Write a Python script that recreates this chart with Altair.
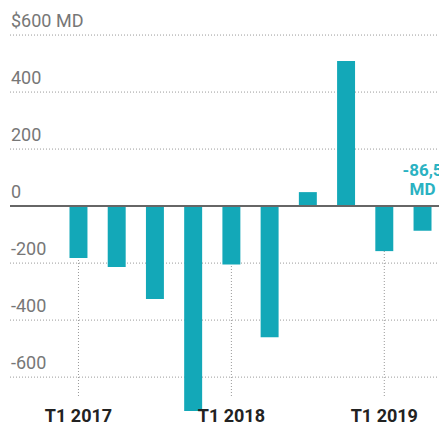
import altair as alt
import pandas as pd

quarters = ["T1 2017", "T2 2017", "T3 2017", "T4 2017",
            "T1 2018", "T2 2018", "T3 2018", "T4 2018",
            "T1 2019", "T2 2019"]
values = [-182, -214, -326, -719, -205, -460, 49, 509, -158, -86.5]

grid_values = [600, 400, 200, -200, -400, -600]
label_values = [600, 400, 200, 0, -200, -400, -600]
label_texts = ["$600 MD", "400", "200", "0", "-200", "-400", "-600"]

year_quarters = ["T1 2017", "T1 2018", "T1 2019"]
annot_quarter = ["T2 2019"]
annot_text = ["-86,5\nMD"]

df = pd.DataFrame({"q": quarters, "v": values})
grid_df = pd.DataFrame({"v": grid_values})
lab_df = pd.DataFrame({"v": label_values, "t": label_texts})
yr_df = pd.DataFrame({"q": year_quarters})
ann_df = pd.DataFrame({"q": annot_quarter, "t": annot_text})
zero_df = pd.DataFrame({"v": [0]})

TEAL = "#13a8b8"
LEFT = 62
W = 439 - LEFT

y_scale = alt.Scale(domain=[-768, 723], nice=False, zero=False)
x_scale = alt.Scale(domain=quarters, paddingInner=0.53, paddingOuter=0.196)

X = alt.X("q:N", scale=x_scale, axis=None, sort=quarters)
Y = alt.Y("v:Q", scale=y_scale, axis=None)

grid = alt.Chart(grid_df).mark_rule(color="#9a9a9a", strokeWidth=1, strokeDash=[1, 2]).encode(
    y=Y, x=alt.value(10 - LEFT), x2=alt.value(W))

vlines = alt.Chart(yr_df).mark_rule(color="#9a9a9a", strokeWidth=1, strokeDash=[1, 2]).encode(
    x=X, y=alt.value(206), y2=alt.value(397))

bars = alt.Chart(df).mark_bar(color=TEAL).encode(x=X, y=Y, y2=alt.datum(0))

zero = alt.Chart(zero_df).mark_rule(color="#666666", strokeWidth=2).encode(
    y=Y, x=alt.value(10 - LEFT), x2=alt.value(W))

labels = alt.Chart(lab_df).mark_text(
    align="left", baseline="alphabetic", dy=-8, fontSize=18, font="Roboto", color="#777777"
).encode(y=Y, x=alt.value(11 - LEFT), text="t:N")

xlabels = alt.Chart(yr_df).mark_text(
    align="center", baseline="alphabetic", fontSize=18, font="Roboto", fontWeight="bold",
    color="#222222"
).encode(x=X, y=alt.value(422), text="q:N")

annot = alt.Chart(ann_df).mark_text(
    align="center", baseline="top", fontSize=17, font="Roboto", fontWeight="bold",
    color="#2ab2c2", lineBreak="\n", lineHeight=19
).encode(x=X, y=alt.value(163), text="t:N")

chart = alt.layer(grid, vlines, bars, zero, labels, xlabels, annot).properties(
    width=W, height=425, autosize=alt.AutoSizeParams(type="none"),
    padding={"left": LEFT, "top": 0, "right": 0, "bottom": 0},
    background="white"
).configure_view(stroke=None)

chart.save("out.html", embed_options={"renderer": "svg", "actions": False})
